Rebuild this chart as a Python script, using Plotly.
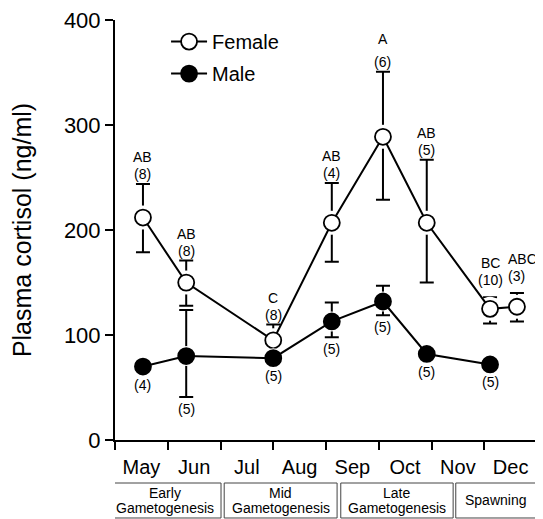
import plotly.graph_objects as go

# ---- data ----
months = ["May", "Jun", "Jul", "Aug", "Sep", "Oct", "Nov", "Dec"]
month_pos = [0.5, 1.5, 2.5, 3.5, 4.5, 5.5, 6.5, 7.5]
month_edges = [0, 1, 2, 3, 4, 5, 6, 7, 8]
y_ticks = [0, 100, 200, 300, 400]

female_x = [0.53, 1.35, 3.0, 4.11, 5.08, 5.91, 7.11, 7.62]
female_y = [212, 150, 95, 207, 289, 207, 125, 127]
female_err_plus = [32, 21, 15, 38, 62, 60, 11, 13]
female_err_minus = [33, 22, 15, 37, 60, 57, 14, 14]
female_letters = ["AB", "AB", "C", "AB", "A", "AB", "BC", "ABC"]
female_n = [8, 8, 8, 4, 6, 5, 10, 3]

male_x = [0.53, 1.35, 3.0, 4.11, 5.08, 5.91, 7.11]
male_y = [70, 80, 78, 113, 132, 82, 72]
male_err_plus = [0, 44, 0, 18, 15, 0, 0]
male_err_minus = [0, 39, 0, 15, 13, 0, 0]
male_n = [4, 5, 5, 5, 5, 5, 5]

phases = [["Early", "Gametogenesis"], ["Mid", "Gametogenesis"],
          ["Late", "Gametogenesis"], ["Spawning"]]
phase_bounds = [(-0.11, 2.01), (2.07, 4.21), (4.28, 6.41), (6.46, 8.0)]

FONT = "Liberation Sans, Arial, Helvetica, sans-serif"
fig = go.Figure()


def add_series(x, y, ep, em, name, group, fill, halo):
    # error bars
    fig.add_trace(go.Scatter(
        x=x, y=y, mode="markers", showlegend=False, hoverinfo="skip",
        marker=dict(size=1, color="rgba(0,0,0,0)"),
        error_y=dict(type="data", symmetric=False, array=ep, arrayminus=em,
                     color="black", thickness=2, width=7),
    ))
    # white halo leaving a small gap between bars and symbols
    fig.add_trace(go.Scatter(
        x=x, y=y, mode="markers", showlegend=False, hoverinfo="skip",
        marker=dict(size=halo, color="white", line=dict(width=0)),
    ))
    fig.add_trace(go.Scatter(
        x=x, y=y, mode="lines+markers", name=name, legendgroup=group,
        line=dict(color="black", width=2),
        marker=dict(symbol="circle", size=16, color=fill, line=dict(color="black", width=1.8)),
    ))


add_series(female_x, female_y, female_err_plus, female_err_minus, "Female", "f", "white", 24)
add_series(male_x, male_y, male_err_plus, male_err_minus, "Male", "m", "black", 20)

# extra lift (px) for some female labels, extra gap between letter and n, letter x-offsets
label_lift = {6: 7, 7: 7}
letter_gap = {4: 6}
letter_dx = {7: 6}

annotations = []
for i, (x, y, p, let, n) in enumerate(zip(female_x, female_y, female_err_plus,
                                           female_letters, female_n)):
    base = label_lift.get(i, 0)
    annotations.append(dict(x=x, y=y + p, xref="x", yref="y", text=f"({n})",
                            showarrow=False, yanchor="bottom", yshift=base,
                            font=dict(size=14, color="black", family=FONT)))
    annotations.append(dict(x=x, y=y + p, xref="x", yref="y", text=let,
                            showarrow=False, yanchor="bottom",
                            yshift=base + 17 + letter_gap.get(i, 0),
                            xshift=letter_dx.get(i, 0),
                            font=dict(size=14, color="black", family=FONT)))
for x, y, m, n in zip(male_x, male_y, male_err_minus, male_n):
    annotations.append(dict(x=x, y=y - m, xref="x", yref="y", text=f"({n})",
                            showarrow=False, yanchor="top", yshift=-2 if m > 0 else -8,
                            font=dict(size=14, color="black", family=FONT)))

shapes = []
for (x0, x1), lines in zip(phase_bounds, phases):
    shapes.append(dict(type="rect", xref="x", yref="paper", x0=x0, x1=x1,
                       y0=-0.1857, y1=-0.1024, line=dict(color="#444", width=1),
                       fillcolor="white", layer="above"))
    ys = [-0.126, -0.162] if len(lines) == 2 else [-0.143]
    for t, yy in zip(lines, ys):
        annotations.append(dict(x=(x0 + x1) / 2, y=yy, xref="x", yref="paper", text=t,
                                showarrow=False, yanchor="middle",
                                font=dict(size=14, color="black", family=FONT)))

# page body adds an 8px offset; the figure is sized so the plot lands where the reference has it
fig.update_layout(
    width=535, height=511,
    margin=dict(l=107, r=6, t=12, b=79),
    paper_bgcolor="white", plot_bgcolor="white",
    font=dict(family=FONT, color="black"),
    showlegend=True,
    legend=dict(x=0.121, y=0.995, xanchor="left", yanchor="top", bgcolor="rgba(0,0,0,0)",
                font=dict(size=20, family=FONT), itemwidth=36,
                traceorder="grouped", tracegroupgap=3),
    xaxis=dict(range=[0, 8], tickmode="array", tickvals=month_pos, ticktext=months,
               ticks="", showgrid=False, zeroline=False, showline=True, linecolor="black",
               linewidth=2, tickfont=dict(size=20, family=FONT), ticklabelstandoff=8,
               automargin=False,
               minor=dict(tickmode="array", tickvals=month_edges, ticks="outside",
                          ticklen=8, tickwidth=2, tickcolor="black", showgrid=False)),
    yaxis=dict(range=[0, 400.3], tickmode="array", tickvals=y_ticks,
               ticks="outside", ticklen=8, tickwidth=2, tickcolor="black",
               showgrid=False, zeroline=False, showline=True, linecolor="black", linewidth=2,
               tickfont=dict(size=22, family=FONT), automargin=False,
               title=dict(text="Plasma cortisol (ng/ml)", font=dict(size=25, family=FONT),
                          standoff=26)),
    annotations=annotations,
    shapes=shapes,
)

fig.write_html("out.html")
